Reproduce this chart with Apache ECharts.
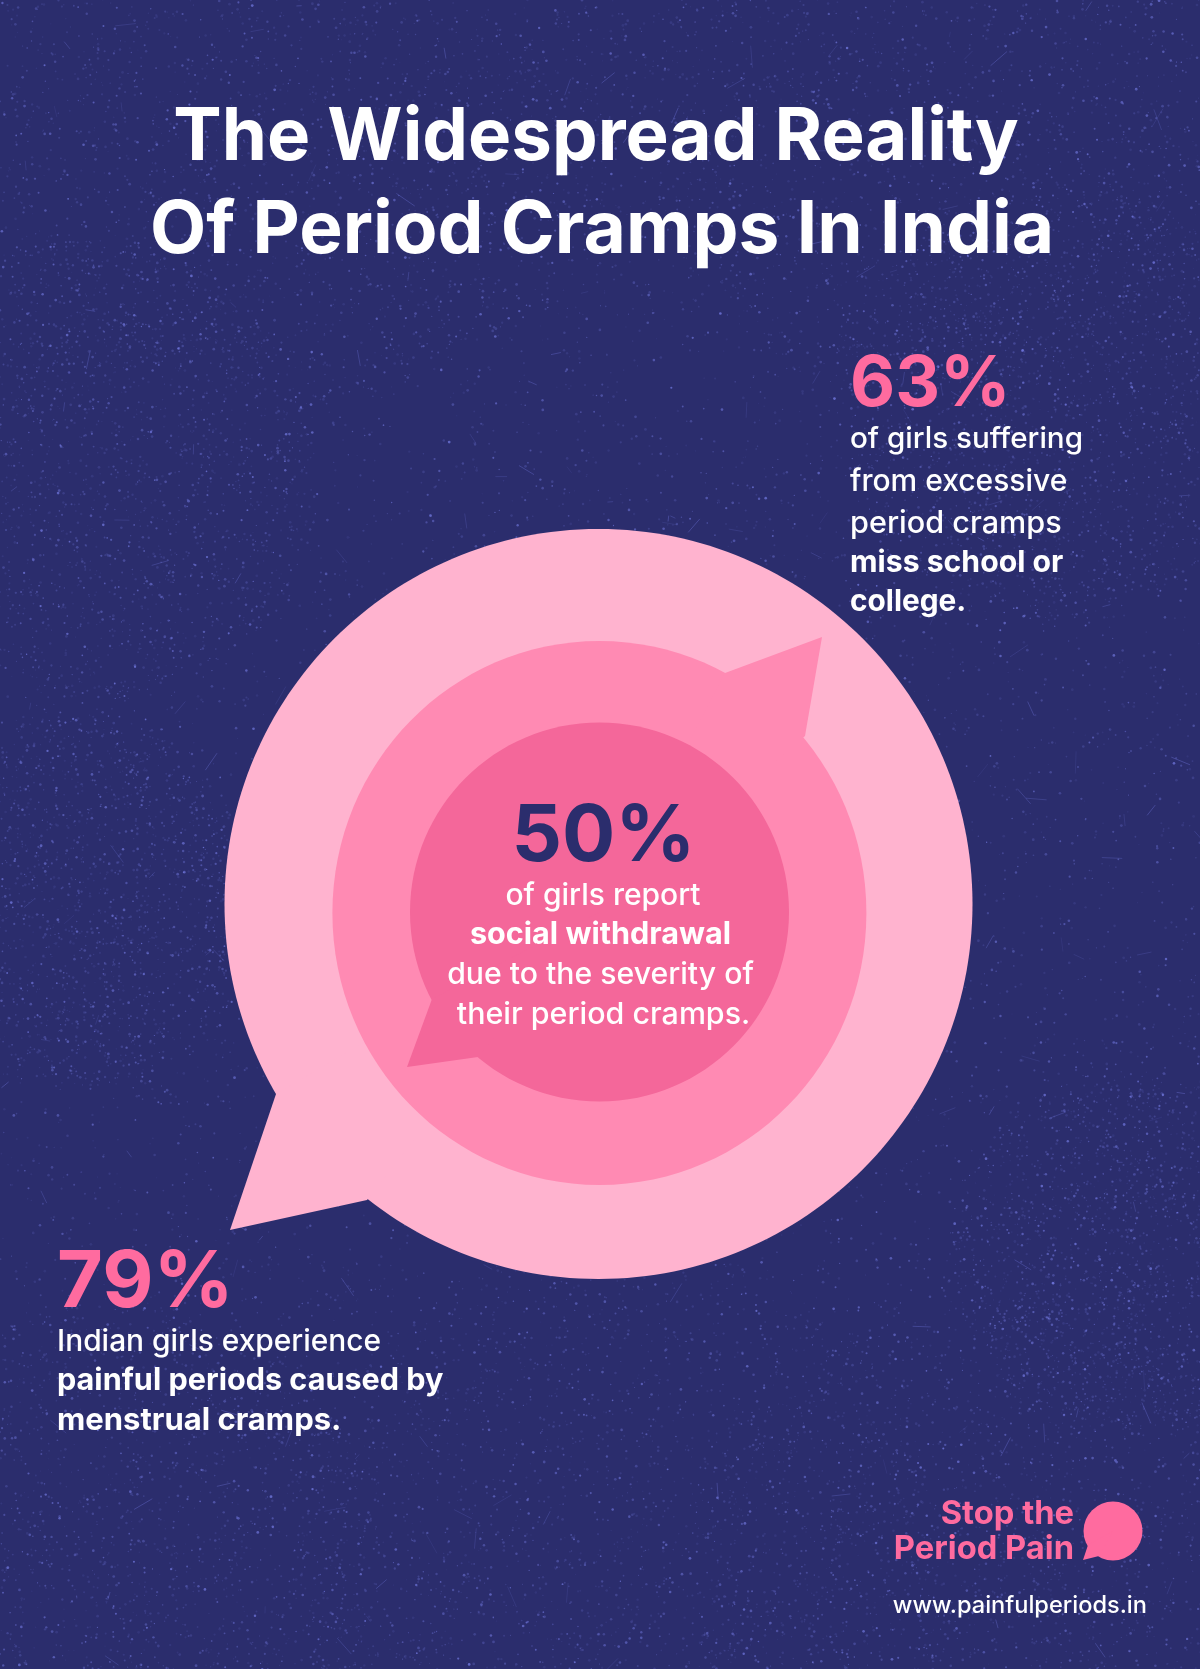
<!DOCTYPE html>
<html>
<head>
<meta charset="utf-8">
<title>The Widespread Reality Of Period Cramps In India</title>
<style>
  html, body { margin: 0; padding: 0; background: #2b2d6d; }
  #chart { width: 1200px; height: 1669px; }
</style>
<script src="https://cdn.jsdelivr.net/npm/echarts@6/dist/echarts.min.js"></script>
</head>
<body>
<div id="chart"></div>
<script>
// chart data
const categories = ['Painful periods', 'Miss school or college', 'Social withdrawal'];
const shareValues = [79, 63, 50];
const titleLines = ['The Widespread Reality', 'Of Period Cramps In India'];
const shareLabels = ['79%', '63%', '50%'];
const painfulLines = ['Indian girls experience', 'painful periods caused by', 'menstrual cramps.'];
const schoolLines = ['of girls suffering', 'from excessive', 'period cramps', 'miss school or', 'college.'];
const withdrawalLines = ['of girls report', 'social withdrawal', 'due to the severity of', 'their period cramps.'];
const brandLines = ['Stop the', 'Period Pain'];
const siteUrl = 'www.painfulperiods.in';

// layout and colours, one entry per bubble
const bubbleLayout = [
  { cx: 598.5, cy: 904, rx: 374, ry: 375, color: '#ffb3cf', tail: [[230, 1230], [276, 1094], [367, 1200]] },
  { cx: 599.4, cy: 913, rx: 267, ry: 272, color: '#ff8ab3', tail: [[822, 637], [725, 673], [805, 736]] },
  { cx: 599.5, cy: 912, rx: 189.5, ry: 189.5, color: '#f4679a', tail: [[407, 1067], [432, 999], [478, 1057]] }
];
const NAVY = '#2b2d6d';
const PINK = '#ff6b9f';
const FONT = 'Inter, sans-serif';

// speckled paper texture behind everything
function makeTexture() {
  const c = document.createElement('canvas');
  c.width = 1200; c.height = 1669;
  const ctx = c.getContext('2d');
  let seed = 20231;
  const rnd = () => (seed = (seed * 16807) % 2147483647) / 2147483647;
  const dot = (x, y) => {
    const a = 0.1 + rnd() * rnd() * 0.6;
    ctx.fillStyle = 'rgba(125,132,240,' + a.toFixed(3) + ')';
    ctx.beginPath();
    ctx.arc(x, y, 0.5 + rnd() * 0.9, 0, Math.PI * 2);
    ctx.fill();
  };
  for (let i = 0; i < 9000; i++) dot(rnd() * 1200, rnd() * 1669);
  // wide diffuse patches
  const patches = [[90, 470, 230], [1060, 400, 220], [300, 70, 330], [950, 70, 330],
    [1000, 1600, 300], [120, 1560, 260], [620, 1560, 320], [70, 900, 190], [1130, 1250, 180]];
  patches.forEach(p => {
    for (let i = 0; i < 1800; i++) {
      const a = rnd() * Math.PI * 2, d = Math.sqrt(rnd()) * p[2];
      dot(p[0] + Math.cos(a) * d, p[1] + Math.sin(a) * d);
    }
  });
  // thin scratches
  for (let i = 0; i < 200; i++) {
    const x = rnd() * 1200, y = rnd() * 1669, a = rnd() * Math.PI * 2, l = 5 + rnd() * 18;
    ctx.strokeStyle = 'rgba(125,132,240,' + (0.12 + rnd() * 0.3).toFixed(3) + ')';
    ctx.lineWidth = 0.8;
    ctx.beginPath();
    ctx.moveTo(x, y);
    ctx.lineTo(x + Math.cos(a) * l, y + Math.sin(a) * l);
    ctx.stroke();
  }
  return c;
}

// baseline-positioned text (zrender draws lines from their middle)
function line(text, x, baseline, size, weight, fill, align) {
  return {
    type: 'text', z: 20, silent: true,
    style: {
      text: text, x: x, y: baseline - size * 0.36 + 3,
      font: weight + ' ' + size + 'px ' + FONT,
      fill: fill, textAlign: align || 'left', textVerticalAlign: 'middle'
    }
  };
}

const textItems = [
  line(titleLines[0], 596, 161, 72.6, 700, '#fff', 'center'),
  line(titleLines[1], 602, 254, 73, 700, '#fff', 'center'),

  line(shareLabels[1], 850, 407, 69.5, 700, PINK),
  line(schoolLines[0], 850, 447, 29.6, 500, '#fff'),
  line(schoolLines[1], 850, 490, 30, 500, '#fff'),
  line(schoolLines[2], 850, 532, 30.6, 500, '#fff'),
  line(schoolLines[3], 850, 571, 30.2, 700, '#fff'),
  line(schoolLines[4], 850, 610, 29.8, 700, '#fff'),

  line(shareLabels[2], 603.5, 863, 79, 700, NAVY, 'center'),
  line(withdrawalLines[0], 603, 904, 30, 500, '#fff', 'center'),
  line(withdrawalLines[1], 600.5, 943, 30.6, 700, '#fff', 'center'),
  line(withdrawalLines[2], 600.5, 983, 30.2, 500, '#fff', 'center'),
  line(withdrawalLines[3], 603.5, 1023, 30.4, 500, '#fff', 'center'),

  line(shareLabels[0], 57, 1309, 79, 700, PINK),
  line(painfulLines[0], 57, 1350, 29.9, 500, '#fff'),
  line(painfulLines[1], 57, 1389, 30.6, 700, '#fff'),
  line(painfulLines[2], 57, 1429, 31, 700, '#fff'),

  line(brandLines[0], 1074, 1523, 32.7, 700, PINK, 'right'),
  line(brandLines[1], 1074, 1558, 32.7, 700, PINK, 'right'),
  line(siteUrl, 1147, 1611, 23.6, 500, '#fff', 'right')
];

function renderBubble(params, api) {
  const b = bubbleLayout[params.dataIndex];
  const c = api.coord([api.value(0), api.value(1)]);
  const tail = b.tail.map(p => api.coord(p));
  return {
    type: 'group',
    children: [
      { type: 'ellipse', shape: { cx: c[0], cy: c[1], rx: b.rx, ry: b.ry }, style: { fill: b.color } },
      { type: 'polygon', shape: { points: [tail[0], tail[1], c, tail[2]] }, style: { fill: b.color } }
    ]
  };
}

const chart = echarts.init(document.getElementById('chart'), null, { renderer: 'canvas' });
chart.setOption({
  animation: false,
  backgroundColor: NAVY,
  grid: { left: 0, right: 0, top: 0, bottom: 0 },
  xAxis: { type: 'value', min: 0, max: 1200, show: false },
  yAxis: { type: 'value', min: 0, max: 1669, inverse: true, show: false },
  series: [{
    type: 'custom',
    name: 'Share of girls',
    coordinateSystem: 'cartesian2d',
    renderItem: renderBubble,
    clip: false,
    data: shareValues.map((v, i) => ({
      name: categories[i],
      value: [bubbleLayout[i].cx, bubbleLayout[i].cy, v]
    }))
  }],
  graphic: [
    { type: 'image', z: -1, silent: true, style: { image: makeTexture(), x: 0, y: 0, width: 1200, height: 1669 } },
    // brand mark
    { type: 'circle', z: 20, silent: true, shape: { cx: 1113, cy: 1531, r: 29.5 }, style: { fill: PINK } },
    { type: 'polygon', z: 20, silent: true, shape: { points: [[1083, 1560], [1088, 1545], [1113, 1531], [1099, 1556]] }, style: { fill: PINK } }
  ].concat(textItems)
});
</script>
</body>
</html>
